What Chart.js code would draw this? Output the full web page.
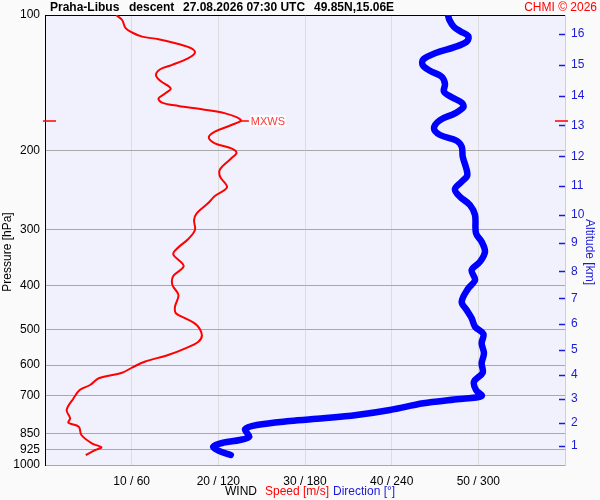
<!DOCTYPE html>
<html>
<head>
<meta charset="utf-8">
<script src="https://cdn.jsdelivr.net/npm/chart.js@4.4.1/dist/chart.umd.min.js"></script>
<style>
  html, body { margin: 0; padding: 0; background: #fafafa; }
  #wrap { width: 600px; height: 500px; }
</style>
</head>
<body>
<div id="wrap"><canvas id="windChart" width="600" height="500"></canvas></div>
<script>
// axis ticks
const pressureTicks = [100, 200, 300, 400, 500, 600, 700, 850, 925, 1000];
const speedTicks = [10, 20, 30, 40, 50];
const speedTickLabels = ['10 / 60', '20 / 120', '30 / 180', '40 / 240', '50 / 300'];
const altitudeKm = [1, 2, 3, 4, 5, 6, 7, 8, 9, 10, 11, 12, 13, 14, 15, 16];
const altitudePressure = [907, 806, 714, 631, 555, 486, 426, 371, 321, 278, 240, 206, 176, 151, 129, 110];

// header pieces
const titleParts = ['Praha-Libus', 'descent', '27.08.2026 07:30 UTC', '49.85N,15.06E'];

// wind speed profile [m/s] vs pressure [hPa]
const speedPressure = [100, 102.6, 107, 109.5, 111.7, 113.2, 116, 118.6, 121.3, 124.8,
  129.2, 132, 135.9, 140, 145.5, 149.3, 153.2, 156.6, 159.3, 162,
  165.4, 171.2, 175.6, 181.7, 187, 192.8, 197.8, 202.3, 208.2, 220.2,
  228.7, 241.5, 252.5, 262.1, 275.9, 285.5, 300.5, 315.1, 328.3, 340.3,
  361.3, 380.2, 398.1, 419, 444.8, 460.1, 472.1, 488.5, 514.2, 532.1,
  550.5, 569.6, 589.4, 606.6, 623.6, 641.7, 664.1, 681.3, 710.9, 754.7,
  787.4, 805.3, 822, 857.7, 894.9, 913.4, 926.1, 950.1];
const speedValues = [8.2, 8.9, 9.3, 10.1, 11.2, 13.1, 15.4, 16.9, 17.3, 16.5,
  14.6, 13.3, 12.8, 13.3, 14.5, 13.9, 13.1, 13.5, 15.4, 18.1,
  20.8, 22.6, 21.5, 19.6, 18.9, 19.6, 21.5, 22.1, 21.5, 20.2,
  20.2, 21.0, 19.6, 18.8, 17.5, 17.2, 17.3, 16.5, 15.4, 14.8,
  16.0, 14.8, 14.7, 15.4, 15.0, 15.1, 16.2, 17.5, 18.1, 17.7,
  16.2, 14.2, 11.5, 10.1, 8.9, 6.2, 5.2, 4.0, 3.3, 2.5,
  2.9, 2.7, 3.9, 4.2, 5.4, 6.5, 5.8, 4.7];

// wind direction profile [deg] vs pressure [hPa]
const dirPressure = [100, 102.6, 106.2, 108.9, 111.3, 114.6, 118, 121.3, 125.4, 129.2,
  133, 137.1, 142.3, 148, 152.3, 156.6, 160.4, 165.4, 171.2, 178.6,
  184.8, 190.3, 196.2, 206.5, 226.7, 234.6, 243.9, 253.4, 264.4, 278.3,
  305.6, 319.1, 335.7, 353.4, 368.8, 388, 404.8, 433.7, 452.5, 472.1,
  492.8, 511.6, 536.5, 564.6, 594.3, 623.6, 653, 681.3, 702.6, 714.5,
  729.3, 754.7, 774.3, 787.5, 798.4, 814.9, 833.1, 865.2, 879.9, 892.2,
  910.4, 929.3, 950.1];
const dirValues = [279, 280, 283, 288, 293, 292, 283, 271, 262, 261.5,
  266.5, 274.6, 276.9, 276.2, 281.6, 288.5, 289.6, 283.8, 273.5, 269.3,
  273.5, 285, 288.5, 289.2, 292.4, 288.5, 283.8, 287.3, 294.2, 297.7,
  298.4, 302.3, 304.6, 301.2, 295.4, 297.7, 293.1, 288.5, 291.9, 295.4,
  297.7, 303.5, 302.3, 303.9, 302.3, 303, 297, 298.4, 302.3, 285,
  261.9, 238.8, 215.8, 192.7, 169.6, 146.6, 138.5, 141.4, 135, 123.4,
  116.5, 120, 128.6];

// max wind level
const mxwsPressure = 172;
const mxwsSpeed = 22.6;

const FONT = '"Liberation Sans", Arial, sans-serif';
Chart.defaults.font.family = FONT;
Chart.defaults.font.size = 12;
Chart.defaults.color = '#000';

const plotBackground = {
  id: 'plotBackground',
  beforeDraw(chart) {
    const { ctx, chartArea: a } = chart;
    ctx.save();
    ctx.fillStyle = '#f1f1fd';
    ctx.fillRect(a.left, a.top, a.right - a.left, a.bottom - a.top);
    ctx.restore();
  }
};

const extras = {
  id: 'extras',
  afterDraw(chart) {
    const { ctx, chartArea: a } = chart;
    const y2 = chart.scales.y2;
    const yS = chart.scales.y;
    const xS = chart.scales.x;
    ctx.save();

    // altitude tick marks inside the right edge
    ctx.strokeStyle = '#1a1ad8';
    ctx.lineWidth = 1.5;
    altitudePressure.forEach(p => {
      const y = Math.round(y2.getPixelForValue(p)) + 0.5;
      ctx.beginPath();
      ctx.moveTo(a.right - 6, y);
      ctx.lineTo(a.right, y);
      ctx.stroke();
    });

    // MXWS marker
    const my = Math.round(yS.getPixelForValue(mxwsPressure));
    const mx = xS.getPixelForValue(mxwsSpeed);
    ctx.strokeStyle = '#ff0000';
    ctx.lineWidth = 1.5;
    ctx.beginPath();
    ctx.moveTo(a.left - 2, my); ctx.lineTo(a.left + 11, my);
    ctx.moveTo(a.right - 10, my); ctx.lineTo(a.right + 3, my);
    ctx.moveTo(mx, my); ctx.lineTo(mx + 8, my);
    ctx.stroke();
    ctx.font = '11px ' + FONT;
    ctx.textBaseline = 'middle';
    ctx.fillStyle = 'rgba(255,255,255,0.8)';
    ctx.fillRect(mx + 9, my - 6, ctx.measureText('MXWS').width + 2, 12);
    ctx.fillStyle = '#ff3b3b';
    ctx.fillText('MXWS', mx + 10, my + 1);

    // header
    ctx.textBaseline = 'middle';
    ctx.font = 'bold 12px ' + FONT;
    ctx.fillStyle = '#000';
    ctx.textAlign = 'left';
    const titleX = [50, 129, 183, 314];
    titleParts.forEach((t, i) => ctx.fillText(t, titleX[i], 8));
    ctx.font = '12px ' + FONT;
    ctx.fillStyle = '#ff0000';
    ctx.textAlign = 'right';
    ctx.fillText('CHMI \u00A9 2026', 597, 8);

    // bottom axis caption
    ctx.textAlign = 'left';
    ctx.fillStyle = '#000';
    ctx.fillText('WIND', 225, 492);
    ctx.fillStyle = '#ff0000';
    ctx.fillText('Speed [m/s]', 265, 492);
    ctx.fillStyle = '#1a1ad8';
    ctx.fillText('Direction [\u00B0]', 333, 492);

    // vertical axis titles
    ctx.textAlign = 'center';
    ctx.fillStyle = '#000';
    ctx.save();
    ctx.translate(8, 252);
    ctx.rotate(-Math.PI / 2);
    ctx.fillText('Pressure [hPa]', 0, 0);
    ctx.restore();
    ctx.save();
    ctx.fillStyle = '#1a1ad8';
    ctx.translate(589, 252);
    ctx.rotate(Math.PI / 2);
    ctx.fillText('Altitude [km]', 0, 0);
    ctx.restore();

    ctx.restore();
  }
};

const ctx = document.getElementById('windChart').getContext('2d');
new Chart(ctx, {
  type: 'line',
  data: {
    datasets: [
      {
        label: 'Direction',
        data: dirValues.map((d, i) => ({ x: d, y: dirPressure[i] })),
        xAxisID: 'x2',
        yAxisID: 'y',
        borderColor: '#0000ff',
        borderWidth: 6.5,
        borderCapStyle: 'round',
        borderJoinStyle: 'round',
        tension: 0.35,
        pointRadius: 0,
        fill: false
      },
      {
        label: 'Speed',
        data: speedValues.map((s, i) => ({ x: s, y: speedPressure[i] })),
        xAxisID: 'x',
        yAxisID: 'y',
        borderColor: '#ff0000',
        borderWidth: 2,
        borderJoinStyle: 'round',
        tension: 0.35,
        pointRadius: 0,
        fill: false
      }
    ]
  },
  options: {
    responsive: false,
    animation: false,
    devicePixelRatio: 1,
    layout: { padding: { top: 15, left: 0, right: 0, bottom: 0 } },
    plugins: {
      legend: { display: false },
      tooltip: { enabled: false }
    },
    scales: {
      x: {
        type: 'linear',
        position: 'bottom',
        min: 0,
        max: 60,
        afterBuildTicks: s => { s.ticks = speedTicks.map(v => ({ value: v })); },
        afterFit: s => { s.height = 35; },
        grid: { color: '#dcdcdc', drawTicks: false },
        border: { color: '#a8a8a8' },
        ticks: { padding: 9, maxRotation: 0, callback: (v, i) => speedTickLabels[i] }
      },
      x2: {
        type: 'linear',
        display: false,
        min: 0,
        max: 360
      },
      y: {
        type: 'logarithmic',
        position: 'left',
        reverse: true,
        min: 100,
        max: 1000,
        afterBuildTicks: s => { s.ticks = pressureTicks.map(v => ({ value: v })); },
        afterFit: s => { s.width = 45; },
        grid: {
          color: c => (c.tick && c.tick.value === 100) ? '#000' : '#a8a8a8',
          drawTicks: false
        },
        border: { color: '#000' },
        ticks: { padding: 5, autoSkip: false, callback: (v, i) => String(pressureTicks[i]) }
      },
      y2: {
        type: 'logarithmic',
        position: 'right',
        reverse: true,
        min: 100,
        max: 1000,
        afterBuildTicks: s => { s.ticks = altitudePressure.map(v => ({ value: v })); },
        afterFit: s => { s.width = 35; },
        grid: { drawOnChartArea: false, drawTicks: false },
        border: { color: '#cfcfd8' },
        ticks: { padding: 6, autoSkip: false, color: '#1a1ad8', callback: (v, i) => String(altitudeKm[i]) }
      }
    }
  },
  plugins: [plotBackground, extras]
});
</script>
</body>
</html>
